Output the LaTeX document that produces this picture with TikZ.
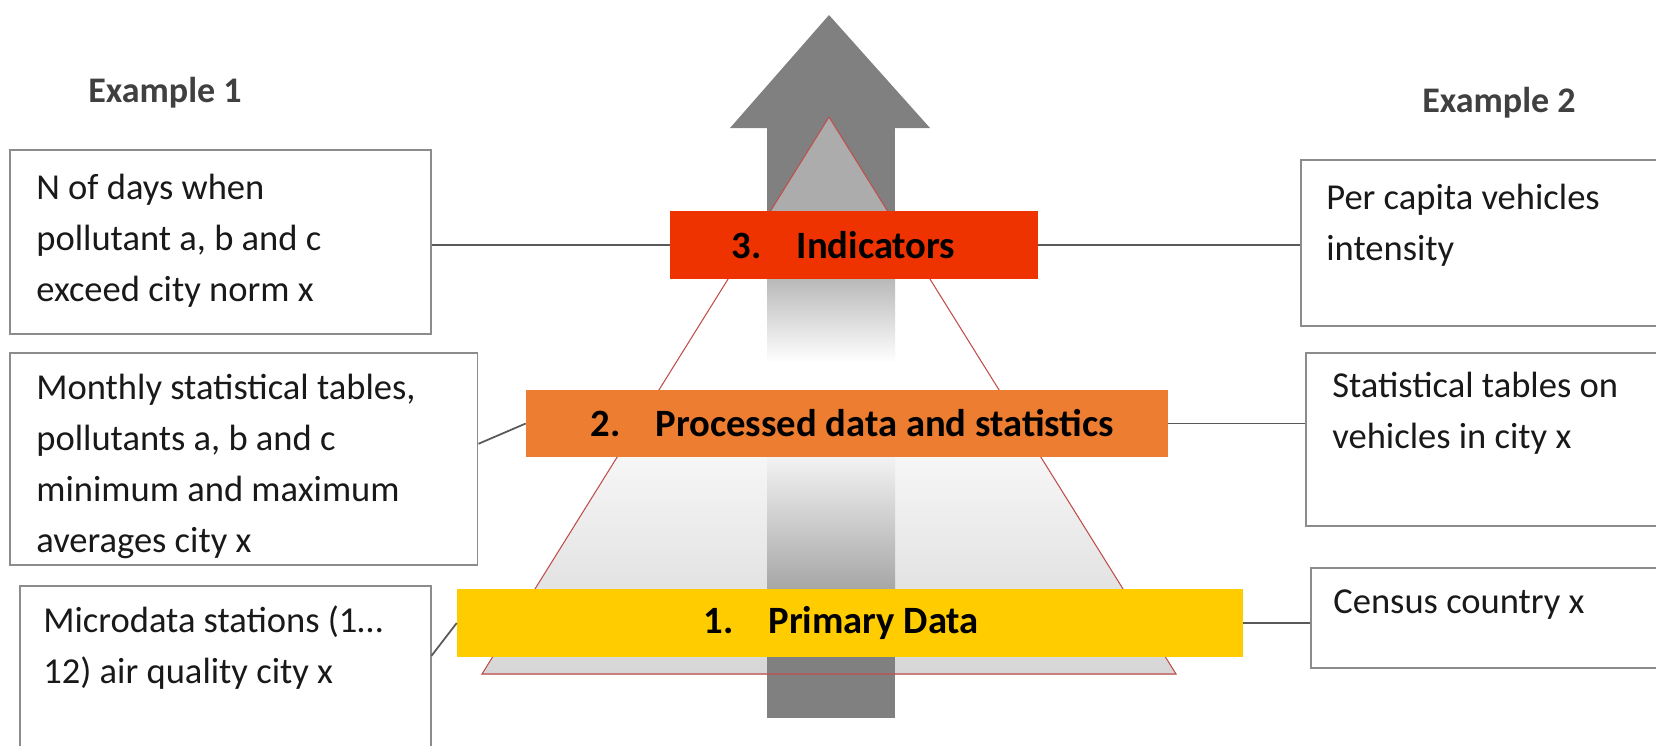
\documentclass[tikz,border=0pt]{standalone}
\usepackage{fontspec}
\setmainfont{Carlito}
\definecolor{indred}{RGB}{238,51,0}
\definecolor{procorange}{RGB}{237,125,49}
\definecolor{primyellow}{RGB}{255,204,0}
\definecolor{linegray}{RGB}{89,89,89}
\definecolor{boxgray}{RGB}{140,140,140}
\definecolor{headgray}{RGB}{128,128,128}
\definecolor{edgered}{RGB}{192,80,77}
\tikzset{
  levelbar/.style={rectangle, inner sep=0pt, text=black, font=\fontsize{22}{26}\selectfont\bfseries},
  exbox/.style={rectangle, draw=boxgray, line width=0.9pt, inner sep=0pt, anchor=north west},
  extext/.style={anchor=north west, inner sep=0pt, align=left, text=black!90, font=\fontsize{20.8}{29}\selectfont},
  extitle/.style={text=black!75, font=\fontsize{20.5}{24}\selectfont\bfseries},
  link/.style={draw=linegray, line width=1pt}
}
\begin{document}
\begin{tikzpicture}[x=0.02cm, y=-0.02cm]
    \useasboundingbox (0,0) rectangle (1656,745);
    \fill[top color=white, bottom color=gray!32, middle color=white] (829,117) -- (482,674) -- (1176,674) -- cycle;
    \fill[headgray] (730,128) -- (829,15) -- (930,128) -- cycle;
    \fill[headgray] (767,127) rectangle (895,250);
    \shade[top color=gray!55, bottom color=white] (767,279) rectangle (895,362);
    \shade[top color=gray!10, bottom color=gray!70] (767,457) rectangle (895,590);
    \fill[headgray] (767,589) rectangle (895,718);
    \fill[white, fill opacity=0.35] (829,117) -- (771,211) -- (887,211) -- cycle;
    \draw[edgered, line width=0.6pt] (829,117) -- (482,674) -- (1176,674) -- cycle;

    \node[levelbar, fill=indred, minimum width=7.36cm, minimum height=1.36cm] (bar3) at (854,245) {3.\hspace{20pt}Indicators\hspace*{12pt}};
    \node[levelbar, fill=procorange, minimum width=12.84cm, minimum height=1.34cm] (bar2) at (847,423.5) {\hspace*{6pt}2.\hspace{20pt}Processed data and statistics};
    \node[levelbar, fill=primyellow, minimum width=15.72cm, minimum height=1.36cm] (bar1) at (850,623) {1.\hspace{20pt}Primary Data\hspace*{10pt}};

    \node[extitle] (title1) at (165,93) {Example 1};
    \node[extitle] (title2) at (1499,103) {Example 2};

    \node[exbox, minimum width=8.42cm, minimum height=3.68cm] (l3) at (9,149) {};
    \node[exbox, minimum width=9.36cm, minimum height=4.24cm] (l2) at (9,352) {};
    \node[exbox, minimum width=8.22cm, minimum height=3.5cm] (l1) at (19,585) {};
    \node[exbox, minimum width=7.6cm, minimum height=3.32cm] (r3) at (1300,159) {};
    \node[exbox, minimum width=7.6cm, minimum height=3.46cm] (r2) at (1305,352) {};
    \node[exbox, minimum width=7.6cm, minimum height=2cm] (r1) at (1310,567) {};

    \node[extext] (l3t) at (36,174) {N of days when\\pollutant a, b and c\\exceed city norm x};
    \node[extext] (l2t) at (36,374) {Monthly statistical tables,\\pollutants a, b and c\\minimum and maximum\\averages city x};
    \node[extext] (l1t) at (43,605) {Microdata stations (1…\\12) air quality city x};
    \node[extext] (r3t) at (1326,184) {Per capita vehicles\\intensity};
    \node[extext] (r2t) at (1332,372) {Statistical tables on\\vehicles in city x};
    \node[extext] (r1t) at (1333,589) {Census country x};

    \draw[link] (bar3.west -| l3.east) -- (bar3.west);
    \draw[link] ([yshift=0.3cm]l2.east) -- (bar2.west);
    \draw[link] ([yshift=0.35cm]l1.east) -- (bar1.west);
    \draw[link] (bar3.east) -- (bar3.east -| r3.west);
    \draw[link] (bar2.east) -- (bar2.east -| r2.west);
    \draw[link] (bar1.east) -- (bar1.east -| r1.west);
\end{tikzpicture}
\end{document}
